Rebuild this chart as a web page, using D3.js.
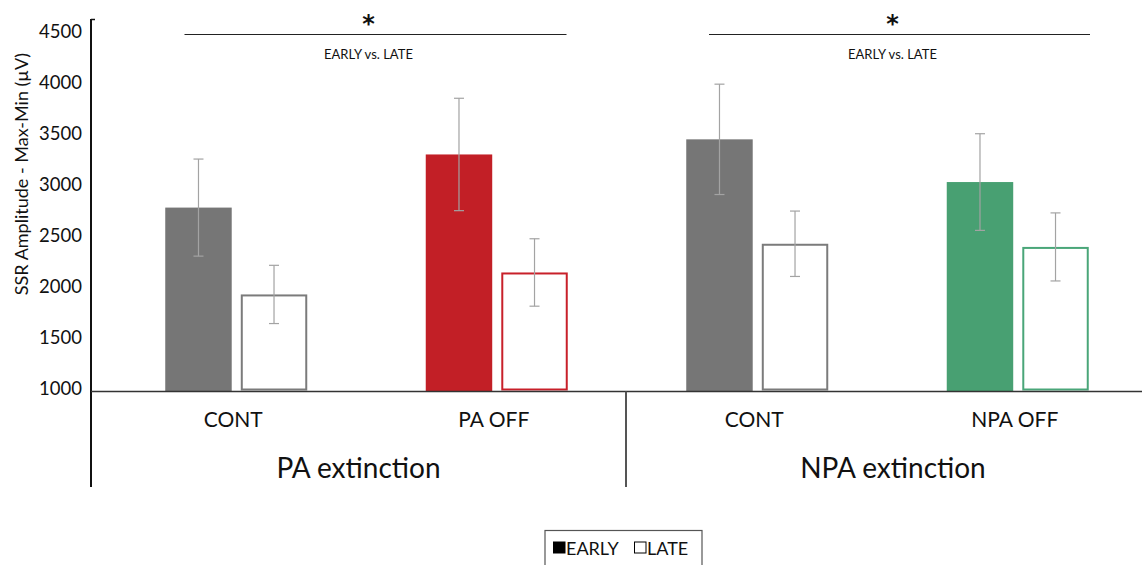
<!DOCTYPE html>
<html>
<head>
<meta charset="utf-8">
<script src="https://cdn.jsdelivr.net/npm/d3@7"></script>
<style>
  html, body { margin: 0; padding: 0; background: #fff; }
  svg { display: block; font-family: Lato, "Open Sans", sans-serif; }
</style>
</head>
<body>
<svg id="chart" width="1142" height="565"></svg>
<script>
// ---------------- data ----------------
const categoryIds    = ["pa-cont", "pa-off", "npa-cont", "npa-off"];
const categoryLabels = ["CONT", "PA OFF", "CONT", "NPA OFF"];
const groupLabels    = ["PA extinction", "NPA extinction"];
const seriesNames    = ["EARLY", "LATE"];
const earlyValues    = [2800, 3320, 3468, 3050];
const earlyErrors    = [475, 550, 540, 473];
const lateValues     = [1950, 2165, 2446, 2415];
const lateErrors     = [285, 330, 320, 333];
const yTicks         = [1000, 1500, 2000, 2500, 3000, 3500, 4000, 4500];
const yLabel         = "SSR Amplitude - Max-Min (\u00B5V)";
const sigLabel       = "EARLY vs. LATE";
const sigMark        = "*";

// ---------------- style ----------------
const fillColors   = ["#767676", "#c21f26", "#767676", "#48a072"];
const strokeColors = ["#7b7b7b", "#c8202a", "#7b7b7b", "#4aa679"];
const errColor = "#a3a3a3";

const svg = d3.select("#chart");

// ---------------- scales ----------------
const y = d3.scaleLinear().domain([1000, 4500]).range([391.5, 33.9]);
const x = d3.scaleBand().domain(categoryIds).range([106, 1148]).paddingInner(0).paddingOuter(0);
const xs = d3.scaleBand().domain(seriesNames).range([-71, 71]).paddingInner(0.12);

const axisX = 91, axisTop = 19, axisBottom = 487, dividerX = 626, rightEdge = 1160;
const baseY = y(1000);

const rows = categoryIds.map((id, i) => ({
  id, i, label: categoryLabels[i],
  early: earlyValues[i], earlyErr: earlyErrors[i],
  late: lateValues[i], lateErr: lateErrors[i]
}));

// ---------------- y axis ----------------
const yAxis = d3.axisLeft(y).tickValues(yTicks).tickSize(0).tickPadding(9).tickFormat(d3.format("d"));
const gy = svg.append("g").attr("transform", `translate(${axisX},0)`).call(yAxis);
gy.select(".domain").remove();
gy.selectAll("text")
  .attr("font-family", "Lato, sans-serif")
  .attr("font-size", 18.5)
  .attr("fill", "#111")
  .attr("dy", "0.35em")
  .attr("transform", "translate(0,-3)");

svg.append("line").attr("x1", axisX).attr("x2", axisX).attr("y1", axisTop).attr("y2", axisBottom)
  .attr("stroke", "#111").attr("stroke-width", 2);
svg.append("line").attr("x1", axisX).attr("x2", axisX + 4).attr("y1", axisTop + 0.5).attr("y2", axisTop + 0.5)
  .attr("stroke", "#111").attr("stroke-width", 1.5);

svg.append("text")
  .attr("transform", `translate(21,174) rotate(-90)`)
  .attr("text-anchor", "middle").attr("dominant-baseline", "central")
  .attr("font-size", 18).attr("fill", "#111")
  .text(yLabel);

// ---------------- bars ----------------
const cats = svg.append("g").selectAll("g").data(rows).join("g")
  .attr("transform", d => `translate(${x(d.id) + x.bandwidth() / 2},0)`);

// early: filled
cats.append("rect")
  .attr("x", xs("EARLY"))
  .attr("width", xs.bandwidth())
  .attr("y", d => y(d.early))
  .attr("height", d => baseY - y(d.early))
  .attr("fill", d => fillColors[d.i]);

// late: outlined
cats.append("rect")
  .attr("x", xs("LATE") + 1)
  .attr("width", xs.bandwidth() - 2)
  .attr("y", d => y(d.late) + 1)
  .attr("height", d => baseY - y(d.late) - 3)
  .attr("fill", "#fff")
  .attr("stroke", d => strokeColors[d.i])
  .attr("stroke-width", 2);

// error bars
function errBar(sel, key, errKey, series) {
  const cx = xs(series) + xs.bandwidth() / 2;
  const g = sel.append("g").attr("stroke", errColor).attr("stroke-width", 1.2);
  g.append("line").attr("x1", cx).attr("x2", cx)
    .attr("y1", d => y(d[key] + d[errKey])).attr("y2", d => y(d[key] - d[errKey]));
  g.append("line").attr("x1", cx - 5).attr("x2", cx + 5)
    .attr("y1", d => y(d[key] + d[errKey])).attr("y2", d => y(d[key] + d[errKey]));
  g.append("line").attr("x1", cx - 5).attr("x2", cx + 5)
    .attr("y1", d => y(d[key] - d[errKey])).attr("y2", d => y(d[key] - d[errKey]));
}
errBar(cats, "early", "earlyErr", "EARLY");
errBar(cats, "late", "lateErr", "LATE");

// ---------------- x axis ----------------
svg.append("line").attr("x1", axisX).attr("x2", 1142).attr("y1", baseY).attr("y2", baseY)
  .attr("stroke", "#333").attr("stroke-width", 1.6);
svg.append("line").attr("x1", dividerX).attr("x2", dividerX).attr("y1", baseY).attr("y2", axisBottom)
  .attr("stroke", "#555").attr("stroke-width", 2);

cats.append("text")
  .attr("x", -3).attr("y", 418)
  .attr("text-anchor", "middle").attr("dominant-baseline", "central")
  .attr("font-size", 21).attr("fill", "#111")
  .text(d => d.label);

const groupBounds = [[axisX, dividerX], [dividerX, rightEdge]];
svg.append("g").selectAll("text").data(groupLabels).join("text")
  .attr("x", (d, i) => (groupBounds[i][0] + groupBounds[i][1]) / 2)
  .attr("y", 467)
  .attr("text-anchor", "middle").attr("dominant-baseline", "central")
  .attr("font-size", 28).attr("fill", "#111")
  .text(d => d);

// ---------------- significance ----------------
const sigSpans = [[184.5, 566.5], [709, 1090]];
const sig = svg.append("g").selectAll("g").data(sigSpans).join("g");
sig.append("line").attr("x1", d => d[0]).attr("x2", d => d[1]).attr("y1", 34.5).attr("y2", 34.5)
  .attr("stroke", "#222").attr("stroke-width", 1.2);
sig.append("text").attr("x", d => (d[0] + d[1]) / 2 - 7).attr("y", 54)
  .attr("text-anchor", "middle").attr("dominant-baseline", "central")
  .attr("font-size", 13).attr("fill", "#111").text(sigLabel);
sig.append("text").attr("x", d => (d[0] + d[1]) / 2 - 7).attr("y", 32)
  .attr("text-anchor", "middle")
  .attr("font-family", "'DejaVu Sans', sans-serif")
  .attr("font-size", 24).attr("font-weight", "bold").attr("fill", "#111").text(sigMark);

// ---------------- legend ----------------
const leg = svg.append("g");
leg.append("rect").attr("x", 545).attr("y", 530.5).attr("width", 157).attr("height", 40)
  .attr("fill", "#fff").attr("stroke", "#555").attr("stroke-width", 1.2);
const legItems = [
  { name: seriesNames[0], x: 553, filled: true },
  { name: seriesNames[1], x: 634, filled: false }
];
const li = leg.selectAll("g").data(legItems).join("g").attr("transform", d => `translate(${d.x},0)`);
li.append("rect").attr("x", d => d.filled ? 0 : 0.5).attr("y", d => d.filled ? 541.5 : 542)
  .attr("width", d => d.filled ? 12.5 : 11.5).attr("height", d => d.filled ? 12 : 11)
  .attr("fill", d => d.filled ? "#000" : "#fff")
  .attr("stroke", d => d.filled ? "none" : "#000").attr("stroke-width", 1);
li.append("text").attr("x", 13).attr("y", 548).attr("dominant-baseline", "central")
  .attr("font-size", 18).attr("fill", "#111").text(d => d.name);
</script>
</body>
</html>
